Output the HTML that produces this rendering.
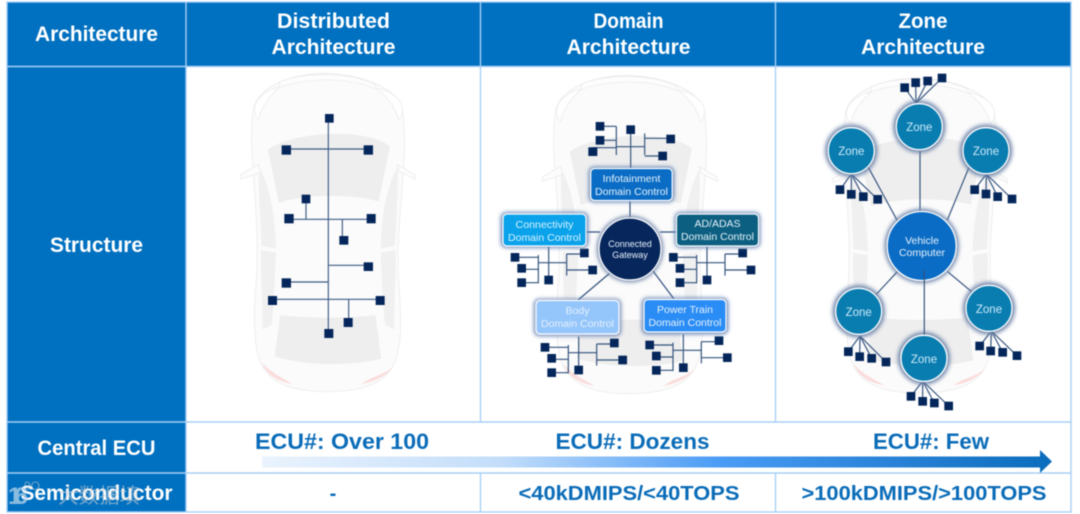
<!DOCTYPE html>
<html><head><meta charset="utf-8"><style>
html,body{margin:0;padding:0;background:#fff;overflow:hidden}
svg{display:block;filter:blur(.4px)}
text{font-family:"Liberation Sans","Noto Sans CJK SC",sans-serif}
.h{font-weight:700;fill:#fff;font-size:21px;text-anchor:middle}
.b{font-weight:700;fill:#0a6cb8;font-size:22px;text-anchor:middle}
.s{fill:#e6f1fb;font-size:10.5px;text-anchor:middle}
.z{fill:#cdeafa;font-size:11.5px;text-anchor:middle}
</style></head><body>
<svg width="1080" height="514" viewBox="0 0 1080 514" xmlns="http://www.w3.org/2000/svg">
<defs>
<linearGradient id="ar" x1="0" x2="1" y1="0" y2="0"><stop offset="0" stop-color="#eaf3fd"/><stop offset=".3" stop-color="#c4defa"/><stop offset=".58" stop-color="#4a9bf5"/><stop offset="1" stop-color="#0a6cbc"/></linearGradient>
<filter id="gl" x="-30%" y="-30%" width="160%" height="160%"><feGaussianBlur stdDeviation="2"/></filter>
<g id="car" transform="translate(190 70) scale(.33333)" stroke="#ececec" stroke-width="2.500">
<path fill="#fbfbfb" d="M400 10C300 12 210 50 192 110C182 150 184 260 190 300C196 400 205 500 200 620C190 720 190 800 205 860C225 930 290 965 410 965C540 965 600 930 620 860C640 790 630 700 625 620C620 500 635 400 640 300C645 250 645 150 635 110C615 50 510 12 400 10Z"/>
<path fill="#eeeeee" d="M235 240C300 190 520 170 598 230L565 392C480 370 350 370 268 397Z"/>
<path fill="#eeeeee" d="M272 737C350 747 480 747 555 737L572 865C480 887 350 887 256 858Z"/>
<path fill="#f0f0f0" stroke="none" d="M207 290C235 340 255 420 258 535L215 528C212 450 205 370 207 290Z"/>
<path fill="#f0f0f0" stroke="none" d="M213 540L258 548C255 620 250 720 245 765L218 778C218 700 212 620 213 540Z"/>
<path fill="#f0f0f0" stroke="none" d="M623 290C595 340 575 420 572 535L615 528C618 450 625 370 623 290Z"/>
<path fill="#f0f0f0" stroke="none" d="M617 540L572 548C575 620 580 720 585 765L612 778C612 700 618 620 617 540Z"/>
<path fill="#fcfcfc" d="M205 283L151 315L152 328L212 308Z"/>
<path fill="#fcfcfc" d="M622 283L675 315L677 328L628 305Z"/>
<path fill="#fdfdfd" d="M270 35C350 5 480 5 558 45L555 56C480 22 350 22 268 52Z"/>
<path fill="#ffffff" d="M268 52C235 80 210 120 206 148C195 140 190 120 197 100C210 75 240 55 268 52Z"/>
<path fill="#ffffff" d="M558 55C595 80 620 120 625 150C637 140 640 120 634 100C620 75 590 58 558 55Z"/>
<path fill="#fbdcdc" stroke="none" d="M215 875C230 920 270 935 308 942C280 925 235 905 215 875Z"/>
<path fill="#fbdcdc" stroke="none" d="M610 890C590 920 550 935 515 942C540 920 585 915 610 890Z"/>
</g>
<g id="clu" fill="none" stroke="#33527d" stroke-width="3.500">
<path d="M160 45V130M90 52H160M110 88H160M110 128H160M160 68H245M245 42V107M245 42H298M245 90H323M191 20V120"/>
<g fill="#04265a" stroke="none"><rect x="77" y="39" width="26" height="26"/><rect x="97" y="72" width="26" height="26"/><rect x="97" y="115" width="26" height="26"/><rect x="178" y="107" width="26" height="26"/><rect x="285" y="26" width="26" height="26"/><rect x="310" y="77" width="26" height="26"/></g>
</g>
</defs>

<rect width="1080" height="514" fill="#fff"/>
<rect x="7" y="2" width="1064" height="64" fill="#0070c0"/>
<rect x="7" y="66" width="179" height="446" fill="#0070c0"/>

<use href="#car"/>
<use href="#car" transform="translate(302 2)"/>
<use href="#car" transform="translate(592 3) translate(328 233) scale(1 .99) translate(-328 -233)"/>

<g fill="none" stroke="#a8cff5" stroke-width="1.400">
<rect x="7" y="2" width="1064" height="510"/>
<path d="M7 66.500H1071M7 422H1071M7 473H1071M186 2V512M480.500 2V422M775.500 2V422M480.500 473V512M775.500 473V512"/>
</g>

<g transform="translate(190 70) scale(.33333)">
<g fill="none" stroke="#3e5c85" stroke-width="3.500">
<path d="M415 145V790M289 237H535M297 448H543M348 387V448M457 448V511M415 586H535M289 636H415M247 688H570M476 688V757"/>
</g>
<g fill="#04265a">
<rect x="405" y="132" width="26" height="26"/><rect x="275" y="226" width="28" height="28"/><rect x="521" y="226" width="28" height="28"/><rect x="335" y="374" width="26" height="26"/><rect x="283" y="432" width="28" height="28"/><rect x="530" y="432" width="27" height="28"/><rect x="448" y="498" width="27" height="26"/><rect x="521" y="577" width="28" height="26"/><rect x="275" y="625" width="28" height="28"/><rect x="234" y="678" width="27" height="27"/><rect x="557" y="678" width="27" height="27"/><rect x="461" y="744" width="27" height="27"/><rect x="403" y="777" width="27" height="27"/>
</g>
</g>

<g stroke="#33527d" stroke-width="1.200" fill="none">
<path d="M630 195V225M586 232H600M660 232H676M610 273L578 300M653 271L674 299"/>
</g>
<g transform="translate(485 240) scale(.33333)"><use href="#clu"/></g>
<g transform="translate(485 240) scale(.33333) translate(475 0)"><use href="#clu"/></g>
<g transform="translate(485 240) scale(.33333) translate(90 270)"><use href="#clu"/></g>
<g transform="translate(485 240) scale(.33333) translate(404 263)"><use href="#clu"/></g>
<g transform="translate(485 70) scale(.33333)" fill="none" stroke="#33527d" stroke-width="3.500">
<path d="M394 169V255M345 169H394M345 211H394M323 233H394M394 230H479M437 179V295M479 190V255M479 205H557M479 258H533"/>
<g fill="#04265a" stroke="none"><rect x="332" y="156" width="26" height="26"/><rect x="332" y="198" width="26" height="26"/><rect x="310" y="232" width="27" height="26"/><rect x="424" y="166" width="26" height="26"/><rect x="544" y="194" width="26" height="26"/><rect x="520" y="245" width="26" height="26"/></g>
</g>

<g>
<rect x="589" y="167" width="85" height="35" rx="5" fill="#5a7ab0" filter="url(#gl)"/>
<rect x="501" y="212.500" width="87" height="35" rx="5" fill="#5a7ab0" filter="url(#gl)"/>
<rect x="675" y="212.500" width="85" height="35" rx="5" fill="#5a7ab0" filter="url(#gl)"/>
<rect x="534" y="299" width="87" height="37" rx="5" fill="#6c86b4" filter="url(#gl)"/>
<rect x="642" y="298" width="86" height="36" rx="5" fill="#5a7ab0" filter="url(#gl)"/>
<circle cx="630" cy="249" r="33" fill="#6d83a8" filter="url(#gl)"/>
<rect x="590.700" y="168.500" width="81.500" height="32" rx="4" fill="#0a6cc4" stroke="#fff" stroke-width="1.200"/>
<rect x="503" y="214" width="83" height="32" rx="4" fill="#0aa2ea" stroke="#fff" stroke-width="1.200"/>
<rect x="676.500" y="214" width="82" height="32" rx="4" fill="#0c5f80" stroke="#fff" stroke-width="1.200"/>
<rect x="536" y="300.500" width="83" height="33.500" rx="4" fill="#94c5fb" stroke="#fff" stroke-width="1.200"/>
<rect x="644" y="299.500" width="82" height="32.500" rx="4" fill="#2a8cf5" stroke="#fff" stroke-width="1.200"/>
<circle cx="630" cy="249" r="31" fill="#06265c" stroke="#fff" stroke-width="1.300"/>
<text class="s" x="631.500" y="182">Infotainment</text><text class="s" x="631.500" y="195">Domain Control</text>
<text class="s" x="544.500" y="228" textLength="58" lengthAdjust="spacingAndGlyphs" style="fill:#d7f3ff">Connectivity</text><text class="s" x="544.500" y="241" style="fill:#d7f3ff">Domain Control</text>
<text class="s" x="717.500" y="227">AD/ADAS</text><text class="s" x="717.500" y="240">Domain Control</text>
<text class="s" x="577.500" y="314">Body</text><text class="s" x="577.500" y="327">Domain Control</text>
<text class="s" x="685" y="313">Power Train</text><text class="s" x="685" y="326">Domain Control</text>
<text class="s" x="630" y="247" style="font-size:9px">Connected</text><text class="s" x="630" y="258" style="font-size:9px">Gateway</text>
</g>

<g transform="translate(780 70) scale(.33333)" stroke="#33527d" stroke-width="3.500" fill="none">
<path d="M265 292L352 452M420 232V425M567 292L502 450"/>
<path d="M408 100L374 53M408 100L407 38M408 100L443 33M408 100L486 24"/>
<path d="M214 312L180 359M214 312L214 373M214 312L250 380M214 312L293 388"/>
<path d="M619 312L584 359M619 312L618 372M619 312L653 380M619 312L696 387"/>
<g fill="#04265a" stroke="none">
<rect x="361" y="40" width="26" height="26"/><rect x="394" y="25" width="26" height="26"/><rect x="430" y="20" width="26" height="26"/><rect x="473" y="11" width="26" height="26"/>
<rect x="167" y="346" width="26" height="26"/><rect x="201" y="360" width="26" height="26"/><rect x="237" y="367" width="26" height="26"/><rect x="280" y="375" width="26" height="26"/>
<rect x="571" y="346" width="26" height="26"/><rect x="605" y="359" width="26" height="26"/><rect x="640" y="367" width="26" height="26"/><rect x="683" y="374" width="26" height="26"/>
</g>
</g>
<g transform="translate(780 240) scale(.33333)" stroke="#33527d" stroke-width="3.500" fill="none">
<path d="M352 95L287 165M503 95L577 157"/>
<path d="M240 288L205 335M240 288L239 350M240 288L275 355M240 288L318 366"/>
<path d="M634 273L599 318M634 273L632 333M634 273L668 337M634 273L711 347"/>
<path d="M428 423L393 469M428 423L428 484M428 423L463 489M428 423L506 498"/>
<g fill="#04265a" stroke="none">
<rect x="192" y="322" width="26" height="26"/><rect x="226" y="337" width="26" height="26"/><rect x="262" y="342" width="26" height="26"/><rect x="305" y="353" width="26" height="26"/>
<rect x="586" y="305" width="26" height="26"/><rect x="619" y="320" width="26" height="26"/><rect x="655" y="324" width="26" height="26"/><rect x="698" y="334" width="26" height="26"/>
<rect x="380" y="456" width="26" height="26"/><rect x="415" y="471" width="26" height="26"/><rect x="450" y="476" width="26" height="26"/><rect x="493" y="485" width="26" height="26"/>
</g>
</g>

<g fill="#6d83a8" filter="url(#gl)">
<circle cx="919.300" cy="126.700" r="26"/><circle cx="851.300" cy="150.700" r="26"/><circle cx="986" cy="150.700" r="26"/><circle cx="858.700" cy="311.300" r="26"/><circle cx="989" cy="308.300" r="26"/><circle cx="924" cy="358.300" r="26"/><circle cx="921.700" cy="246" r="37"/>
</g>
<g fill="#0a7db0" stroke="#fff" stroke-width="1.300">
<circle cx="919.300" cy="126.700" r="23"/><circle cx="851.300" cy="150.700" r="23"/><circle cx="986" cy="150.700" r="23"/><circle cx="858.700" cy="311.300" r="23"/><circle cx="989" cy="308.300" r="23"/><circle cx="924" cy="358.300" r="23"/>
<circle cx="921.700" cy="246" r="34.500" fill="#0a6cc4"/>
</g>
<path d="M924.300 270V336" stroke="#33527d" stroke-width="1.200"/>
<circle cx="924" cy="358.300" r="23" fill="#0a7db0" stroke="#fff" stroke-width="1.300"/>
<g>
<text class="z" x="919.300" y="131">Zone</text><text class="z" x="851.300" y="155">Zone</text><text class="z" x="986" y="155">Zone</text><text class="z" x="858.700" y="316">Zone</text><text class="z" x="989" y="313">Zone</text><text class="z" x="924" y="363">Zone</text>
<text class="s" x="922" y="244">Vehicle</text><text class="s" x="922" y="256">Computer</text>
</g>

<path d="M262 456.500H1040V450L1052 461.500L1040 473V467.500H262Z" fill="url(#ar)"/>

<text class="h" x="96.500" y="41" textLength="123" lengthAdjust="spacingAndGlyphs">Architecture</text>
<text class="h" x="333.500" y="28" textLength="113" lengthAdjust="spacingAndGlyphs">Distributed</text>
<text class="h" x="333.500" y="54" textLength="124" lengthAdjust="spacingAndGlyphs">Architecture</text>
<text class="h" x="628.500" y="28" textLength="70" lengthAdjust="spacingAndGlyphs">Domain</text>
<text class="h" x="628.500" y="54" textLength="124" lengthAdjust="spacingAndGlyphs">Architecture</text>
<text class="h" x="923" y="28" textLength="49" lengthAdjust="spacingAndGlyphs">Zone</text>
<text class="h" x="923" y="54" textLength="124" lengthAdjust="spacingAndGlyphs">Architecture</text>
<text class="h" x="96.500" y="252" textLength="93" lengthAdjust="spacingAndGlyphs">Structure</text>
<text class="h" x="96.500" y="455" textLength="118" lengthAdjust="spacingAndGlyphs">Central ECU</text>
<text class="h" x="96.500" y="500" textLength="152" lengthAdjust="spacingAndGlyphs">Semiconductor</text>
<text x="8" y="504" fill="#b9d4ea" opacity=".75" font-size="24" font-weight="700" textLength="20">16</text>
<text x="58" y="503" fill="#d4d4d4" opacity=".55" font-size="21" textLength="82" lengthAdjust="spacingAndGlyphs">大数据填</text>
<text x="24" y="490" fill="#d4d4d4" opacity=".55" font-size="12">9O</text>

<text class="b" x="342" y="449" textLength="174" lengthAdjust="spacingAndGlyphs">ECU#: Over 100</text>
<text class="b" x="632.500" y="449" textLength="154" lengthAdjust="spacingAndGlyphs">ECU#: Dozens</text>
<text class="b" x="931" y="449" textLength="116" lengthAdjust="spacingAndGlyphs">ECU#: Few</text>
<text class="b" x="333" y="500" style="font-size:20px">-</text>
<text class="b" x="629" y="500" textLength="221" lengthAdjust="spacingAndGlyphs" style="font-size:20px">&lt;40kDMIPS/&lt;40TOPS</text>
<text class="b" x="924" y="500" textLength="245" lengthAdjust="spacingAndGlyphs" style="font-size:20px">&gt;100kDMIPS/&gt;100TOPS</text>
</svg>
</body></html>
